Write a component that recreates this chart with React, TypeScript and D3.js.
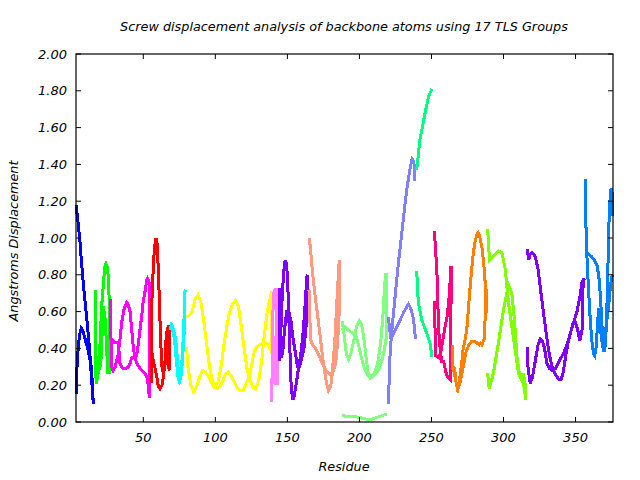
import React from "react";
import * as d3 from "d3";

type Pt = [number, number];

const groupColors: string[] = [
  "#0000ff", "#00ff00", "#ff00ff", "#ff0000", "#00ffff", "#ffff00", "#ff80ff", "#8000ff",
  "#ff9980", "#80ff80", "#8080ff", "#00ff80", "#ff0080", "#ff8000", "#80ff00", "#8000ff", "#0080ff",
];

const group1: Pt[][] = [[
  [3.3, 0.15], [4, 0.3], [5, 0.42], [6, 0.48], [7, 0.51], [8, 0.5], [9, 0.47], [10, 0.44], [12, 0.38], [14, 0.3], [15, 0.15],
  [15.3, 0.1], [14, 0.25], [13, 0.36], [12, 0.46], [10.7, 0.57], [9.5, 0.66], [8.3, 0.76], [7, 0.88], [6, 0.99], [4.5, 1.1], [3.3, 1.18],
]];
const group2: Pt[][] = [[
  [16.5, 0.72], [16.6, 0.45], [17, 0.25], [17.6, 0.21], [18.2, 0.25], [18.8, 0.32], [19.9, 0.41], [21.1, 0.63], [22.2, 0.74],
  [23.2, 0.84], [24.1, 0.86], [25, 0.84], [25.7, 0.79], [26.4, 0.65], [26.4, 0.27], [25.2, 0.27], [24.6, 0.41], [23.4, 0.57],
  [22.2, 0.63], [21.5, 0.5], [20.8, 0.35], [20, 0.3], [19.2, 0.28], [18.5, 0.3], [17.6, 0.23],
]];
const group3: Pt[][] = [[
  [27.4, 0.67], [27.6, 0.45], [28, 0.3], [29, 0.28], [30.5, 0.3], [32.6, 0.37], [34, 0.46], [35, 0.54], [36.5, 0.61],
  [38.4, 0.65], [39.5, 0.64], [40.8, 0.6], [42, 0.5], [43, 0.41], [44.2, 0.35], [45.4, 0.32], [47, 0.3], [48.9, 0.28],
  [50.5, 0.27], [52.4, 0.25], [53.5, 0.2], [54.2, 0.13], [54.4, 0.5], [54.6, 0.72], [54, 0.76], [53, 0.78], [52.4, 0.77],
  [51, 0.7], [50, 0.66], [48.8, 0.57], [47.7, 0.5], [46.5, 0.42], [45.4, 0.36], [44, 0.35], [42, 0.35], [40.5, 0.31],
  [39.6, 0.3], [38, 0.29], [36, 0.29], [35, 0.3], [33.8, 0.32], [33, 0.4], [32.6, 0.43], [30.3, 0.43], [28, 0.45],
]];
const group4: Pt[][] = [[
  [55.5, 0.21], [55.5, 0.58], [56.2, 0.7], [57, 0.85], [57.8, 0.95], [58.8, 1.0], [59.6, 0.97], [60.3, 0.85], [61, 0.7],
  [61.6, 0.55], [62.3, 0.4], [63, 0.3], [64, 0.26], [65, 0.3], [65.8, 0.42], [66.5, 0.5], [67.5, 0.52], [68, 0.52],
  [68, 0.28], [67.2, 0.32], [66.5, 0.38], [65.8, 0.45], [65, 0.32], [64, 0.25], [63, 0.2], [61.6, 0.18], [60.5, 0.19],
  [59.5, 0.24], [58, 0.3], [57, 0.33], [55.8, 0.39],
]];
const group5: Pt[][] = [[
  [68.5, 0.5], [69.5, 0.53], [70.5, 0.52], [72, 0.42], [73, 0.33], [74, 0.25], [75, 0.22], [76, 0.24], [77, 0.35],
  [78, 0.5], [79, 0.72], [78.5, 0.5], [77.5, 0.38], [76.5, 0.26], [75.5, 0.23], [74.5, 0.26], [73.5, 0.36], [72.5, 0.45],
  [71, 0.5], [69.5, 0.5],
]];
const group6: Pt[][] = [[
  [80, 0.57], [82, 0.58], [84, 0.6], [86, 0.67], [88, 0.69], [90, 0.65], [92, 0.55], [94, 0.42], [96, 0.3], [98, 0.22],
  [100, 0.19], [102, 0.22], [104, 0.3], [106, 0.42], [108, 0.52], [110, 0.6], [112, 0.64], [114, 0.66], [116, 0.63],
  [118, 0.52], [120, 0.4], [122, 0.29], [124, 0.23], [126, 0.19], [128, 0.18], [130, 0.22], [132, 0.32], [134, 0.47],
  [136, 0.6], [138, 0.67], [139, 0.71], [139, 0.45], [138, 0.4], [137, 0.42], [135, 0.43], [133, 0.43], [131, 0.42],
  [129, 0.41], [127, 0.38], [125, 0.3], [123, 0.24], [121, 0.2], [119, 0.17], [117, 0.17], [115, 0.19], [113, 0.22],
  [111, 0.25], [109, 0.27], [107, 0.26], [105, 0.22], [103, 0.19], [101, 0.18], [99, 0.19], [97, 0.22], [95, 0.25],
  [93, 0.27], [91, 0.28], [89, 0.24], [87, 0.19], [85, 0.165], [83, 0.2], [81, 0.3], [80, 0.41],
]];
const group7: Pt[][] = [[
  [139, 0.11], [139.5, 0.3], [140, 0.6], [140.5, 0.7], [141.5, 0.72], [142.5, 0.72], [142.5, 0.5], [142, 0.3],
  [141.5, 0.2], [141, 0.25], [142, 0.45], [143, 0.58], [143, 0.2],
]];
const group8: Pt[][] = [[
  [144.5, 0.73], [144.5, 0.33], [145.5, 0.5], [146.5, 0.7], [147.5, 0.82], [148.5, 0.88], [149.5, 0.86], [150.5, 0.7],
  [151.5, 0.45], [152.5, 0.22], [153.5, 0.13], [154.5, 0.13], [156, 0.2], [157.5, 0.28], [159, 0.35], [160.5, 0.45],
  [162, 0.6], [163.5, 0.79], [164, 0.8], [164, 0.65], [163, 0.52], [161.5, 0.4], [160, 0.35], [158.5, 0.3], [157, 0.3],
  [155.5, 0.38], [154, 0.45], [152.5, 0.55], [151, 0.6], [149.5, 0.6], [148, 0.5], [147, 0.4], [146, 0.35], [145, 0.4],
  [144.5, 0.5],
]];
const group9: Pt[][] = [[
  [165, 1.0], [166, 0.95], [167, 0.85], [169, 0.7], [171, 0.58], [173, 0.45], [175, 0.32], [177, 0.22], [178.5, 0.17],
  [180, 0.19], [181, 0.25], [182, 0.35], [183, 0.45], [184, 0.6], [185, 0.75], [186, 0.88], [186, 0.6], [185, 0.45],
  [184, 0.35], [183, 0.3], [181.5, 0.27], [179.5, 0.26], [177.5, 0.27], [175.5, 0.3], [173.5, 0.33], [171.5, 0.37],
  [169.5, 0.4], [167.5, 0.42], [166, 0.45], [165.5, 0.6], [165, 0.72],
]];
const group10: Pt[][] = [
  [
    [188, 0.55], [189, 0.5], [190, 0.43], [191, 0.37], [192.5, 0.34], [194, 0.37], [196, 0.44], [198, 0.52], [200, 0.55],
    [201.5, 0.53], [203, 0.46], [204.5, 0.36], [206, 0.27], [207.5, 0.24], [209, 0.25], [211, 0.28], [213, 0.33],
    [215, 0.45], [216.5, 0.6], [217.5, 0.75], [218.5, 0.81], [218.5, 0.45], [217, 0.38], [215, 0.32], [212.5, 0.27],
    [210, 0.25], [208, 0.24], [206, 0.25], [204, 0.28], [202, 0.33], [200.5, 0.38], [199, 0.43], [197.5, 0.47],
    [196, 0.48], [194, 0.49], [192, 0.5], [190, 0.52], [188, 0.5],
  ],
  [
    [188, 0.033], [192, 0.032], [196, 0.03], [200, 0.025], [203, 0.018], [206, 0.014], [209, 0.016], [212, 0.025],
    [215, 0.033], [219, 0.042],
  ],
];
const group11: Pt[][] = [
  [
    [220.2, 0.1], [221, 0.33], [222, 0.45], [223.5, 0.58], [225, 0.7], [227, 0.86], [229, 1.0], [231, 1.14],
    [233, 1.27], [235, 1.37], [236.5, 1.43], [237.5, 1.42], [238.3, 1.38], [238.6, 1.31],
  ],
  [
    [220.2, 0.57], [221, 0.5], [222, 0.45], [223, 0.47], [225, 0.5], [228, 0.55], [231, 0.6], [234, 0.64],
    [235.5, 0.62], [237, 0.58], [238.5, 0.5], [238.7, 0.45],
  ],
];
const group12: Pt[][] = [
  [[239.8, 1.37], [242, 1.535], [245.6, 1.68], [248, 1.77], [250.3, 1.81]],
  [[239.8, 0.82], [240.5, 0.7], [241, 0.646], [243.3, 0.555], [246.8, 0.48], [249, 0.43], [250.3, 0.355]],
];
const group13: Pt[][] = [
  [
    [252, 1.04], [253, 0.92], [254, 0.78], [254.5, 0.63], [255, 0.5], [256, 0.4], [257, 0.33], [258.5, 0.33],
    [260, 0.27], [261.5, 0.24], [263, 0.23], [263.5, 0.5], [263.7, 0.85],
  ],
  [
    [252, 0.66], [252.5, 0.5], [253, 0.36], [255, 0.35], [256.5, 0.38], [258, 0.45], [259.5, 0.52], [261, 0.58],
    [262.5, 0.7], [263.5, 0.85],
  ],
];
const group14: Pt[][] = [[
  [264.5, 0.42], [265, 0.27], [266, 0.3], [267, 0.22], [268, 0.18], [269, 0.2], [270, 0.26], [271, 0.32], [272, 0.4],
  [273, 0.43], [274.5, 0.5], [276, 0.65], [277, 0.75], [278.5, 0.88], [280, 0.97], [281.5, 1.02], [282.5, 1.03],
  [283.5, 1.01], [285, 0.95], [286, 0.88], [287, 0.8], [288, 0.62], [288.5, 0.59], [288, 0.72], [287.5, 0.6],
  [286.5, 0.45], [285, 0.42], [284, 0.43], [283, 0.42], [281.5, 0.43], [280, 0.44], [278, 0.44], [276, 0.42],
  [274, 0.38], [272, 0.3], [270, 0.22], [268.5, 0.18], [267, 0.22], [266, 0.26], [265, 0.3], [264.5, 0.35],
]];
const group15: Pt[][] = [[
  [289, 1.05], [290.3, 0.88], [293, 0.9], [296.5, 0.93], [298.9, 0.92], [301.2, 0.83], [303.5, 0.646], [305.8, 0.52],
  [308.1, 0.39], [310.4, 0.265], [313.9, 0.21], [315.5, 0.12], [315, 0.21], [313.9, 0.256], [311.1, 0.256],
  [309.3, 0.355], [307.6, 0.555], [305.8, 0.7], [303.5, 0.745], [300, 0.61], [296.5, 0.43], [293, 0.265],
  [290.1, 0.18], [289, 0.265],
]];
const group16: Pt[][] = [[
  [316.5, 0.94], [317.5, 0.88], [318.5, 0.91], [320, 0.92], [322, 0.9], [324, 0.83], [326, 0.7], [328, 0.58],
  [330, 0.46], [332, 0.36], [334, 0.29], [336, 0.26], [338.5, 0.23], [340, 0.23], [341.5, 0.27], [343, 0.35],
  [345, 0.44], [347, 0.5], [349, 0.55], [351, 0.6], [353, 0.68], [354.5, 0.76], [356, 0.78], [355, 0.72],
  [354.5, 0.5], [353, 0.44], [351.5, 0.5], [350, 0.54], [348, 0.53], [346, 0.47], [344, 0.42], [342, 0.38],
  [340, 0.35], [338, 0.32], [336, 0.29], [334, 0.28], [332, 0.29], [330, 0.32], [328.5, 0.4], [327, 0.44],
  [325.5, 0.45], [324, 0.42], [322, 0.33], [320, 0.24], [318.5, 0.21], [317, 0.3], [316.5, 0.41],
]];
const group17: Pt[][] = [
  [
    [356.7, 1.32], [356.7, 1.19], [357.3, 1.05], [357.8, 0.92], [359, 0.91], [361, 0.9], [363, 0.88], [365, 0.85],
    [366.3, 0.78], [367.3, 0.68], [368.2, 0.55], [369, 0.43], [369.8, 0.38], [370.8, 0.42], [371.7, 0.6],
    [372.5, 0.85], [373.2, 1.08], [374, 1.22], [374.7, 1.27], [375.3, 1.25], [375.8, 1.12],
  ],
  [
    [357.8, 0.92], [358.5, 0.8], [359.5, 0.65], [360.5, 0.52], [361.5, 0.43], [362.5, 0.37], [363.3, 0.36],
    [364.2, 0.4], [365.2, 0.52], [366, 0.62], [367, 0.55], [368, 0.45], [369.2, 0.4], [370.5, 0.47], [371.8, 0.56],
    [373, 0.63], [374.2, 0.74], [375.3, 0.79], [376, 0.8],
  ],
];

const groups: Pt[][][] = [
  group1, group2, group3, group4, group5, group6, group7, group8, group9,
  group10, group11, group12, group13, group14, group15, group16, group17,
];

const xTicks: number[] = [50, 100, 150, 200, 250, 300, 350];
const yTicks: number[] = [0, 0.2, 0.4, 0.6, 0.8, 1.0, 1.2, 1.4, 1.6, 1.8, 2.0];

const titleText = "Screw displacement analysis of backbone atoms using 17 TLS Groups";
const xLabel = "Residue";
const yLabel = "Angstroms Displacement";

export default function App() {
  const W = 640, H = 480;
  const left = 76, right = 613, top = 54, bottom = 422;
  const x = d3.scaleLinear().domain([3.3, 376]).range([left, right]);
  const y = d3.scaleLinear().domain([0, 2]).range([bottom, top]);
  const line = d3.line<Pt>().x((d) => x(d[0])).y((d) => y(d[1]));
  const fmt = d3.format(".2f");
  const font = "'DejaVu Sans', sans-serif";
  const tl = 5;

  return (
    <svg width={W} height={H} style={{ position: "absolute", left: 0, top: 0, background: "#fff" }}
      fontFamily={font} fontStyle="italic">
      <rect x={0} y={0} width={W} height={H} fill="#fff" />
      <g>
        {groups.map((g, gi) =>
          g.map((seg, si) => (
            <path key={`${gi}-${si}`} d={line(seg) || ""} fill="none" stroke={groupColors[gi]}
              strokeWidth={3} strokeLinejoin="miter" strokeLinecap="butt" shapeRendering="crispEdges" />
          ))
        )}
      </g>
      <rect x={left} y={top} width={right - left} height={bottom - top} fill="none" stroke="#000" strokeWidth={1.2} />
      {xTicks.map((t) => (
        <g key={`x${t}`}>
          <line x1={x(t)} x2={x(t)} y1={bottom} y2={bottom - tl} stroke="#000" />
          <line x1={x(t)} x2={x(t)} y1={top} y2={top + tl} stroke="#000" />
          <text x={x(t)} y={bottom + 20} textAnchor="middle" fontSize={13} fill="#000">{t}</text>
        </g>
      ))}
      {yTicks.map((t) => (
        <g key={`y${t}`}>
          <line x1={left} x2={left + tl} y1={y(t)} y2={y(t)} stroke="#000" />
          <line x1={right} x2={right - tl} y1={y(t)} y2={y(t)} stroke="#000" />
          <text x={67} y={y(t) + 4.5} textAnchor="end" fontSize={13} fill="#000">{fmt(t)}</text>
        </g>
      ))}
      <text x={344} y={31} textAnchor="middle" fontSize={12.8} fill="#000">{titleText}</text>
      <text x={344} y={471} textAnchor="middle" fontSize={12.8} fill="#000">{xLabel}</text>
      <text transform={`translate(18,${(top + bottom) / 2 + 3}) rotate(-90)`} textAnchor="middle" fontSize={12.8} fill="#000">{yLabel}</text>
    </svg>
  );
}
